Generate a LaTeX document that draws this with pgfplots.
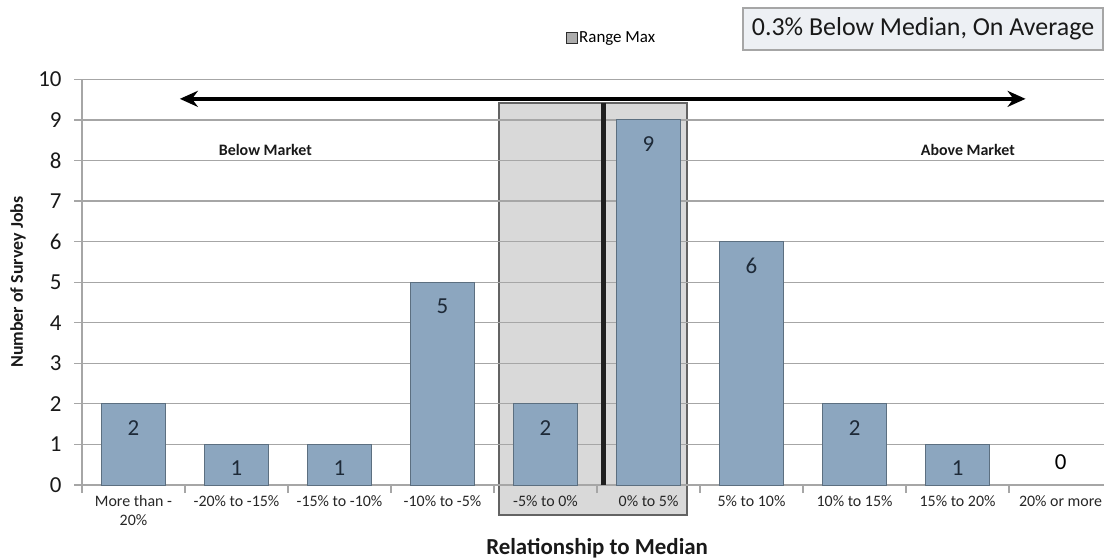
\documentclass[border=0pt]{standalone}
\usepackage{pgfplots}
\pgfplotsset{compat=1.18}
\usepackage{fontspec}
\setmainfont{Carlito}
\usetikzlibrary{arrows.meta}
\definecolor{barfill}{HTML}{8CA6BF}
\definecolor{bardraw}{HTML}{5C6F80}
\definecolor{gridc}{HTML}{A6A6A6}
\definecolor{shade}{HTML}{D9D9D9}
\definecolor{shadedraw}{HTML}{636363}
\definecolor{boxfill}{HTML}{EDF0F4}
\definecolor{labc}{HTML}{1E2A38}
\begin{document}
\begin{tikzpicture}
\begin{axis}[
  set layers,
  scale only axis, width=1022bp, height=405.6bp,
  xmin=-0.5, xmax=9.422, ymin=0, ymax=10,
  axis lines*=left,
  axis line style={gridc, line width=1.2pt},
  clip=false,
  ytick={0,...,10},
  ymajorgrids, grid style={gridc, line width=1.2pt},
  tick style={gridc, line width=1.2pt},
  major tick length=8bp, tick align=outside,
  /pgf/number format/assume math mode=true,
  yticklabel style={font=\fontsize{23}{23}\selectfont, text=black!90, xshift=-9bp},
  xtick={-0.5,0.5,...,8.5}, xticklabels={},
  extra x ticks={0,...,9},
  extra x tick labels={{More than -\\20\%},{-20\% to -15\%},{-15\% to -10\%},{-10\% to -5\%},{-5\% to 0\%},{0\% to 5\%},{5\% to 10\%},{10\% to 15\%},{15\% to 20\%},{20\% or more}},
  extra x tick style={major tick length=0pt, grid=none,
     tick label style={font=\fontsize{16}{18.5}\selectfont, align=center, text=black!85, yshift=-7bp}},
  ylabel={Number of Survey Jobs},
  ylabel style={at={(axis description cs:-0.0626,0.5)}, anchor=center, font=\bfseries\fontsize{18}{18}\selectfont, text=black!90},
  xlabel={Relationship to Median},
  xlabel style={at={(axis description cs:0.504,-0.155)}, anchor=center, font=\bfseries\fontsize{23}{23}\selectfont, text=black!90},
  legend style={draw=none, fill=none, at={(axis description cs:0.518,1.103)}, anchor=center, font=\fontsize{17}{17}\selectfont, legend cell align=left},
]
\begin{pgfonlayer}{axis background}
\filldraw[fill=shade, draw=shadedraw, line width=1.8pt] (axis cs:3.55,-0.74) rectangle (axis cs:5.37,9.42);
\end{pgfonlayer}
\addplot[ybar, bar width=0.62, fill=barfill, draw=bardraw, line width=1pt,
  nodes near coords, every node near coord/.append style={anchor=center, yshift=-24bp, font=\fontsize{23}{23}\selectfont, text=labc}, forget plot]
  coordinates {(0,2) (1,1) (2,1) (3,5) (4,2) (5,9) (6,6) (7,2) (8,1)};
\addplot[ybar, bar width=0.62, draw=none, fill=none,
  nodes near coords, every node near coord/.append style={anchor=center, yshift=23bp, font=\fontsize{23}{23}\selectfont, text=black}, forget plot]
  coordinates {(9,0)};
\addlegendimage{legend image code/.code={\filldraw[fill=gray!65, draw=gray!35!black, line width=0.6pt] (0bp,-5.5bp) rectangle (11bp,5.5bp);}}
\addlegendentry{Range Max}
\draw[line width=5pt, black!88] (axis cs:4.56,0) -- (axis cs:4.56,9.42);
\draw[line width=4.5pt, black, {Stealth[length=18bp,width=16bp]}-{Stealth[length=18bp,width=16bp]}] (axis cs:0.45,9.52) -- (axis cs:8.66,9.52);
\node[font=\bfseries\fontsize{16}{16}\selectfont, text=black!90] at (axis cs:1.28,8.26) {Below Market};
\node[font=\bfseries\fontsize{16}{16}\selectfont, text=black!90] at (axis cs:8.10,8.26) {Above Market};
\end{axis}
\node[draw=gridc, fill=boxfill, line width=1.2pt, minimum width=360bp, minimum height=42bp, font=\fontsize{26}{26}\selectfont, text=black!90, inner sep=0pt] at (841bp,456bp) {0.3\% Below Median, On Average};
\pgfresetboundingbox
\path[use as bounding box] (-82bp,-75bp) rectangle (1022bp,485bp);
\end{tikzpicture}
\end{document}
